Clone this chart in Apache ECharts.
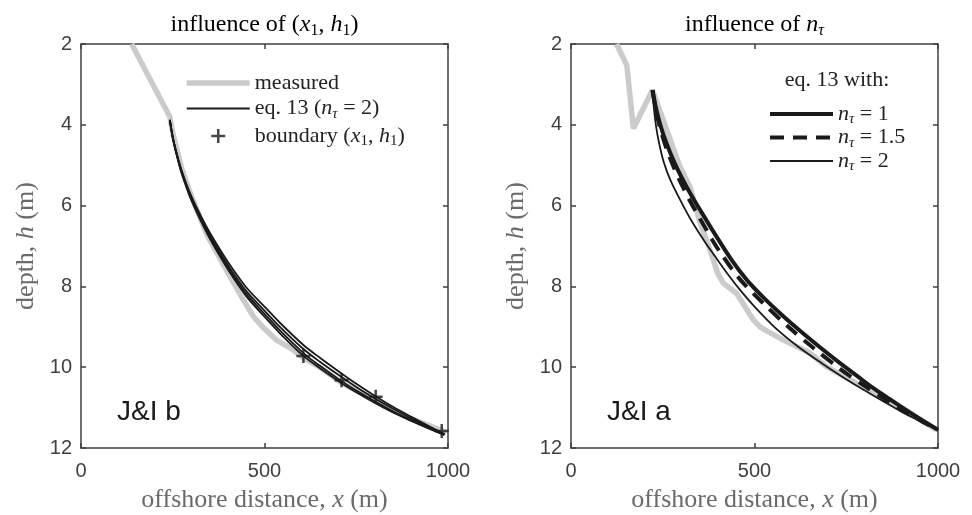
<!DOCTYPE html>
<html>
<head>
<meta charset="utf-8">
<script src="https://cdn.jsdelivr.net/npm/echarts@6.0.0/dist/echarts.min.js"></script>
<style>
html, body { margin: 0; padding: 0; background: #fff; }
#chart { width: 972px; height: 515px; }
</style>
</head>
<body>
<div id="chart"></div>
<script>
// values: x = offshore distance (m), h = depth (m)
const xRange = [0, 1000]
const hRange = [2, 12]

// left panel (J&I b), influence of (x1, h1)
const measuredB = [[138, 2.0], [242, 3.8], [250, 4.2], [275, 5.1], [300, 5.75], [342, 6.7], [375, 7.25],
  [406, 7.75], [440, 8.3], [470, 8.75], [500, 9.05], [533, 9.33], [570, 9.52], [606, 9.77], [650, 10.0],
  [706, 10.36], [750, 10.58], [797, 10.77], [850, 11.05], [900, 11.28], [950, 11.45], [996, 11.62]]
const eqX = [242, 250, 260, 275, 300, 342, 375, 406, 450, 500, 542, 606, 650, 706, 750, 796, 850, 900, 950, 990]
const eqB1 = [3.88, 4.30, 4.68, 5.15, 5.75, 6.52, 7.03, 7.47, 8.02, 8.50, 8.90, 9.45, 9.76, 10.13, 10.41, 10.68, 10.98, 11.23, 11.47, 11.65]
const eqB2 = [3.88, 4.31, 4.70, 5.18, 5.79, 6.58, 7.10, 7.55, 8.11, 8.60, 9.00, 9.55, 9.86, 10.22, 10.49, 10.75, 11.03, 11.27, 11.49, 11.66]
const eqB3 = [3.88, 4.32, 4.71, 5.20, 5.82, 6.62, 7.15, 7.61, 8.18, 8.68, 9.09, 9.65, 9.96, 10.32, 10.58, 10.82, 11.09, 11.31, 11.52, 11.67]
const eqB4 = [3.88, 4.32, 4.72, 5.22, 5.85, 6.66, 7.20, 7.66, 8.24, 8.75, 9.16, 9.72, 10.02, 10.37, 10.62, 10.86, 11.12, 11.33, 11.53, 11.68]
const boundX = [606, 710, 803, 983]
const boundH = [9.72, 10.32, 10.73, 11.58]

// right panel (J&I a), influence of n_tau
const measuredA = [[124, 2.0], [152, 2.52], [170, 4.09], [222, 3.14], [240, 3.6], [261, 4.13], [297, 5.04],
  [324, 5.53], [351, 6.4], [375, 7.0], [400, 7.68], [415, 7.92], [451, 8.17], [497, 8.83], [515, 9.0],
  [533, 9.1], [579, 9.33], [651, 9.65], [697, 9.99], [778, 10.4], [860, 10.81], [900, 11.0], [996, 11.55]]
const nTau1 = [[222, 3.14], [232, 3.6], [245, 4.05], [260, 4.45], [280, 4.9], [300, 5.28], [325, 5.7], [350, 6.08],
  [385, 6.6], [438, 7.35], [480, 7.85], [524, 8.27], [574, 8.7], [624, 9.1], [680, 9.52], [733, 9.9],
  [780, 10.22], [824, 10.52], [870, 10.8], [920, 11.1], [960, 11.33], [1000, 11.55]]
const nTau15 = [[222, 3.14], [232, 3.68], [245, 4.15], [260, 4.58], [280, 5.05], [300, 5.45], [325, 5.9], [350, 6.3],
  [385, 6.85], [406, 7.15], [460, 7.82], [524, 8.42], [592, 9.0], [660, 9.52], [733, 10.04], [806, 10.5],
  [870, 10.88], [920, 11.15], [960, 11.36], [1000, 11.55]]
const nTau2 = [[222, 3.14], [226, 3.6], [232, 4.05], [240, 4.45], [252, 4.9], [270, 5.35], [297, 5.85], [330, 6.4],
  [365, 6.9], [392, 7.25], [430, 7.73], [460, 8.08], [500, 8.5], [556, 9.02], [620, 9.5], [683, 9.9],
  [740, 10.24], [797, 10.56], [850, 10.84], [900, 11.1], [950, 11.33], [1000, 11.55]]

const SERIF = 'Liberation Serif'
const SANS = 'Liberation Sans'
const AXIS = '#404040'
const GRAY = '#cbcbcb'
const INK = '#1a1a1a'

// rich styles for LaTeX-like labels: t = roman, i = italic, s/r = subscript
function math(size, color, lh) {
  lh = lh || 26
  const sub = Math.round(size * 0.68)
  const pad = Math.round(size * 0.5)
  return {
    t: { fontFamily: SERIF, fontSize: size, color: color, lineHeight: lh },
    i: { fontFamily: SERIF, fontSize: size, color: color, fontStyle: 'italic', lineHeight: lh },
    s: { fontFamily: SERIF, fontSize: sub, color: color, fontStyle: 'italic', lineHeight: lh - pad, padding: [pad, 0, 0, 0] },
    r: { fontFamily: SERIF, fontSize: sub, color: color, lineHeight: lh - pad, padding: [pad, 0, 0, 0] }
  }
}

const legendText = {
  measured: '{t|measured}',
  eqB: '{t|eq. 13 (}{i|n}{s|τ}{t| = 2)}',
  boundary: '{t|boundary (}{i|x}{r|1}{t|, }{i|h}{r|1}{t|)}',
  n1: '{i|n}{s|τ}{t| = 1}',
  n15: '{i|n}{s|τ}{t| = 1.5}',
  n2: '{i|n}{s|τ}{t| = 2}'
}

const plusPath = 'path://M-0.09,-0.5 L0.09,-0.5 L0.09,-0.09 L0.5,-0.09 L0.5,0.09 L0.09,0.09 L0.09,0.5 L-0.09,0.5 L-0.09,0.09 L-0.5,0.09 L-0.5,-0.09 L-0.09,-0.09 Z'

const grids = [
  { left: 81, top: 44, width: 367, height: 404, outerBoundsMode: 'none' },
  { left: 571, top: 44, width: 367, height: 404, outerBoundsMode: 'none' }
]

function xAxes(gi) {
  const base = {
    type: 'value', gridIndex: gi, min: xRange[0], max: xRange[1], interval: 500,
    splitLine: { show: false },
    axisLine: { show: true, onZero: false, lineStyle: { color: AXIS, width: 1.5 } },
    axisTick: { show: true, inside: true, length: 5, lineStyle: { color: AXIS, width: 1.5 } }
  }
  return [
    Object.assign({}, base, {
      position: 'bottom',
      axisLabel: { show: true, margin: 13, color: AXIS, fontFamily: SANS, fontSize: 20, formatter: v => String(v) },
      name: '{t|offshore distance, }{i|x}{t| (m)}',
      nameLocation: 'middle', nameGap: 38,
      nameTextStyle: { rich: math(26, '#6a6a6a', 28) }
    }),
    Object.assign({}, base, { position: 'top', axisLabel: { show: false } })
  ]
}

function yAxes(gi) {
  const base = {
    type: 'value', gridIndex: gi, min: hRange[0], max: hRange[1], interval: 2, inverse: true,
    splitLine: { show: false },
    axisLine: { show: true, onZero: false, lineStyle: { color: AXIS, width: 1.5 } },
    axisTick: { show: true, inside: true, length: 5, lineStyle: { color: AXIS, width: 1.5 } }
  }
  return [
    Object.assign({}, base, {
      position: 'left',
      axisLabel: { show: true, margin: 9, color: AXIS, fontFamily: SANS, fontSize: 20 },
      name: '{t|depth, }{i|h}{t| (m)}',
      nameLocation: 'middle', nameGap: 41,
      nameTextStyle: { rich: math(26, '#6a6a6a', 28) }
    }),
    Object.assign({}, base, { position: 'right', axisLabel: { show: false } })
  ]
}

function line(name, data, gi, width, color, extra) {
  return Object.assign({
    name: name, type: 'line', xAxisIndex: gi * 2, yAxisIndex: gi * 2,
    data: data, symbol: 'none', silent: true, smooth: 0.3,
    lineStyle: { color: color, width: width },
    itemStyle: { color: color }
  }, extra || {})
}

const pairs = (xs, hs) => xs.map((x, k) => [x, hs[k]])

const series = [
  line('measured', measuredB, 0, 5.5, GRAY, { smooth: false }),
  line('eqB', pairs(eqX, eqB1), 0, 1.8, INK),
  line('eqB', pairs(eqX, eqB2), 0, 1.8, INK),
  line('eqB', pairs(eqX, eqB3), 0, 1.8, INK),
  line('eqB', pairs(eqX, eqB4), 0, 1.8, INK),
  {
    name: 'boundary', type: 'scatter', xAxisIndex: 0, yAxisIndex: 0, silent: true,
    data: pairs(boundX, boundH), symbol: plusPath, symbolSize: 14, symbolKeepAspect: true,
    itemStyle: { color: INK }, z: 5
  },
  line('measuredA', measuredA, 1, 5.5, GRAY, { smooth: false }),
  line('n1', nTau1, 1, 4, INK),
  line('n15', nTau15, 1, 4, INK, { lineStyle: { color: INK, width: 4, type: [14, 9] } }),
  line('n2', nTau2, 1, 1.8, INK)
]

// line entries: hide the legend symbol, keep only the line sample
const lineItem = name => ({ name: name, itemStyle: { opacity: 0 } })

const legendBase = {
  orient: 'vertical', itemWidth: 63, itemHeight: 14, padding: 0, selectedMode: false,
  formatter: name => legendText[name],
  lineStyle: { width: 'inherit' }
}

const option = {
  animation: false,
  backgroundColor: '#fff',
  grid: grids,
  xAxis: xAxes(0).concat(xAxes(1)),
  yAxis: yAxes(0).concat(yAxes(1)),
  legend: [
    Object.assign({}, legendBase, {
      data: [lineItem('measured'), lineItem('eqB'), 'boundary'],
      left: 184, top: 72, itemGap: 1.5,
      textStyle: { rich: math(22, '#222', 26) }
    }),
    Object.assign({}, legendBase, {
      data: [lineItem('n1'), lineItem('n15'), lineItem('n2')],
      left: 768, top: 101, itemGap: -2.5,
      textStyle: { rich: math(22, '#222', 22) }
    })
  ],
  graphic: [
    { type: 'text', x: 264.5, y: 25, style: { text: '{t|influence of (}{i|x}{r|1}{t|, }{i|h}{r|1}{t|)}', rich: math(24, '#222', 28), align: 'center', verticalAlign: 'middle' } },
    { type: 'text', x: 754.5, y: 25, style: { text: '{t|influence of }{i|n}{s|τ}', rich: math(24, '#222', 28), align: 'center', verticalAlign: 'middle' } },
    { type: 'text', x: 837, y: 80, style: { text: 'eq. 13 with:', font: '22px "Liberation Serif"', fill: '#222', align: 'center', verticalAlign: 'middle' } },
    { type: 'text', x: 117, y: 412, style: { text: 'J&I b', font: '28px "Liberation Sans"', fill: INK, align: 'left', verticalAlign: 'middle' } },
    { type: 'text', x: 607, y: 412, style: { text: 'J&I a', font: '28px "Liberation Sans"', fill: INK, align: 'left', verticalAlign: 'middle' } }
  ],
  series: series
}

const chart = echarts.init(document.getElementById('chart'), null, { renderer: 'canvas' })
chart.setOption(option)
</script>
</body>
</html>
